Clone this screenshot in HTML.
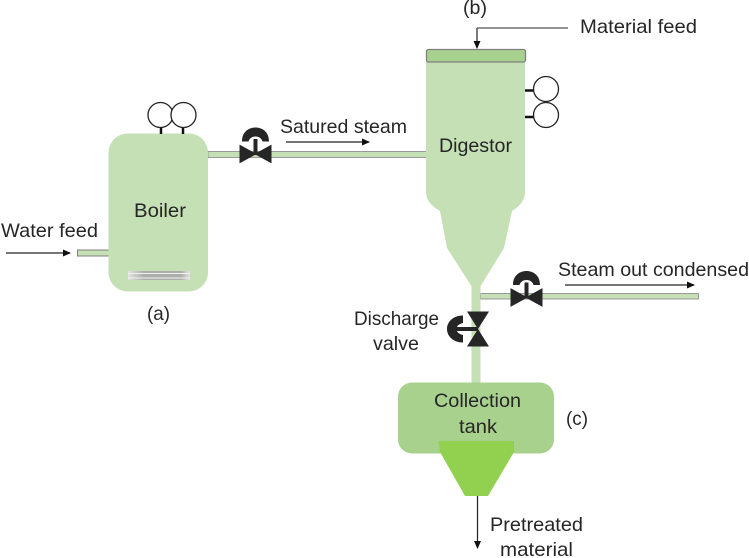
<!DOCTYPE html>
<html>
<head>
<meta charset="utf-8">
<style>
html,body{margin:0;padding:0;background:#fff;width:749px;height:558px;overflow:hidden}
svg{display:block}
text{font-family:"Liberation Sans",sans-serif;font-size:19.500px;fill:#262626}
</style>
</head>
<body>
<svg width="749" height="558" viewBox="0 0 749 558" xmlns="http://www.w3.org/2000/svg">
<defs>
<marker id="a" viewBox="0 0 8 8" refX="7" refY="4" markerWidth="8" markerHeight="8" orient="auto" markerUnits="userSpaceOnUse"><path d="M0 0.500L8 4L0 7.500Z" fill="#111"/></marker>
<linearGradient id="t" x1="0" y1="0" x2="1" y2="0"><stop offset="0" stop-color="#e4e4e4"/><stop offset=".25" stop-color="#a9a9a9"/><stop offset=".85" stop-color="#a9a9a9"/><stop offset="1" stop-color="#e4e4e4"/></linearGradient>
<g id="v">
<path d="M-15.500 -8.500L0 0L-15.500 8.500Z M15.500 -8.500L0 0L15.500 8.500Z" fill="#262626" stroke="#262626" stroke-width="1"/>
<rect x="-2" y="-15" width="4" height="16" fill="#262626"/>
<path d="M-13.500 -12.500C-13.500 -22 -7 -26.500 0 -26.500C7 -26.500 13.500 -22 13.500 -12.500L7 -12.500C6 -16 3 -17.500 0 -17.500C-3 -17.500 -6 -16 -7 -12.500Z" fill="#262626"/>
</g>
</defs>

<!-- pipes -->
<rect x="77.500" y="250" width="32" height="6" fill="#c5e0b4" stroke="#7f7f7f"/>
<rect x="208" y="151.500" width="219" height="6" fill="#c5e0b4" stroke="#9a9a9a"/>
<rect x="480.500" y="293.500" width="218" height="5.500" fill="#c5e0b4" stroke="#9a9a9a"/>
<rect x="471.500" y="280" width="9" height="103" fill="#c5e0b4"/>

<!-- boiler -->
<rect x="108.500" y="133.500" width="99.500" height="158" rx="19" fill="#c5e0b4"/>
<rect x="128" y="271" width="62" height="9" fill="url(#t)" opacity=".9"/>
<path d="M128 273.500H190M128 278H190" stroke="#f1f1f1" stroke-width="1"/>
<path d="M161 125V134M183 125V134" stroke="#111" stroke-width="2.500"/>
<circle cx="160.500" cy="115" r="12.500" fill="#fff" stroke="#222" stroke-width="1.300"/>
<circle cx="183.500" cy="115" r="12.500" fill="#fff" stroke="#222" stroke-width="1.300"/>

<!-- digestor -->
<path d="M426 60H525V192Q525 203 512 211L504 248L480 287H472L447 248L440 211Q426 203 426 192Z" fill="#c5e0b4"/>
<rect x="426.500" y="49.500" width="99" height="12.500" rx="2" fill="#a9d18e" stroke="#7f7f7f" stroke-width="1.300"/>
<path d="M525 90.500H534M525 117H534" stroke="#111" stroke-width="2.500"/>
<circle cx="546" cy="89" r="12.500" fill="#fff" stroke="#222" stroke-width="1.300"/>
<circle cx="546" cy="115" r="12.500" fill="#fff" stroke="#222" stroke-width="1.300"/>

<!-- valves -->
<use href="#v" x="255.500" y="154"/>
<use href="#v" x="526.500" y="297.500"/>
<g transform="translate(478 329) rotate(-90)">
<path d="M-17.500 -11L0 0L-17.500 11Z M17.500 -11L0 0L17.500 11Z" fill="#262626"/>
<rect x="-2" y="-22" width="4" height="22" fill="#262626"/>
<path d="M-13.500 -15C-13.500 -25 -7 -31 0 -31C7 -31 13.500 -25 13.500 -15L6 -15C5 -19 3 -21.500 0 -21.500C-3 -21.500 -5 -19 -6 -15Z" fill="#262626"/>
</g>

<!-- tank -->
<rect x="398" y="382.500" width="156" height="71" rx="14" fill="#a9d18e"/>
<path d="M438.500 441H514V452L488 496H465L440 452Z" fill="#92d050"/>

<!-- arrows -->
<g stroke="#222" stroke-width="1.200" fill="none">
<path d="M6 253H70" marker-end="url(#a)"/>
<path d="M286 142H369" marker-end="url(#a)"/>
<path d="M477 28V48" marker-end="url(#a)"/>
<path d="M477 28H568" stroke="#555"/>
<path d="M565 285H694" marker-end="url(#a)"/>
<path d="M477.500 496V548" marker-end="url(#a)"/>
</g>

<!-- labels -->
<text x="1" y="237" textLength="97" lengthAdjust="spacingAndGlyphs">Water feed</text>
<text x="134" y="217" textLength="52" lengthAdjust="spacingAndGlyphs">Boiler</text>
<text x="147" y="320" textLength="23" lengthAdjust="spacingAndGlyphs">(a)</text>
<text x="280" y="133" textLength="127" lengthAdjust="spacingAndGlyphs">Satured steam</text>
<text x="463" y="14" textLength="24" lengthAdjust="spacingAndGlyphs">(b)</text>
<text x="580" y="33" textLength="117" lengthAdjust="spacingAndGlyphs">Material feed</text>
<text x="439" y="152" textLength="73" lengthAdjust="spacingAndGlyphs">Digestor</text>
<text x="558" y="276" textLength="191" lengthAdjust="spacingAndGlyphs">Steam out condensed</text>
<text x="354" y="325" textLength="85" lengthAdjust="spacingAndGlyphs">Discharge</text>
<text x="373" y="350" textLength="46" lengthAdjust="spacingAndGlyphs">valve</text>
<text x="434" y="407" textLength="87" lengthAdjust="spacingAndGlyphs">Collection</text>
<text x="459" y="433" textLength="38" lengthAdjust="spacingAndGlyphs">tank</text>
<text x="566" y="425" textLength="22" lengthAdjust="spacingAndGlyphs">(c)</text>
<text x="490" y="531" textLength="93" lengthAdjust="spacingAndGlyphs">Pretreated</text>
<text x="500" y="556" textLength="73" lengthAdjust="spacingAndGlyphs">material</text>
</svg>
</body>
</html>
